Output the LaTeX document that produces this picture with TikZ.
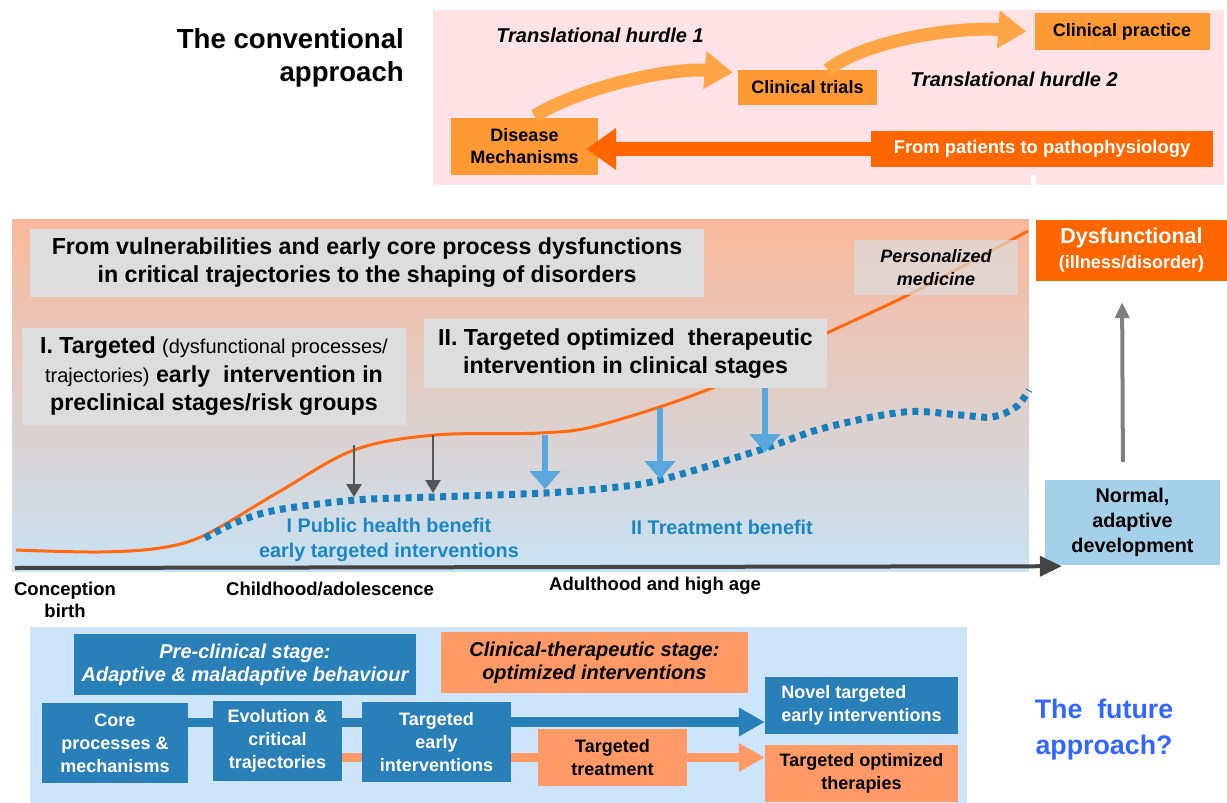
\documentclass[tikz,border=0pt]{standalone}
\usepackage{fontspec}
\setmainfont{Liberation Sans}
\usetikzlibrary{arrows.meta}

\definecolor{pinkbg}{RGB}{255,226,229}
\definecolor{boxorange}{RGB}{255,153,51}
\definecolor{darkorange}{RGB}{255,102,0}
\definecolor{arroworange}{RGB}{255,165,70}
\definecolor{trajorange}{RGB}{255,106,16}
\definecolor{lifetop}{RGB}{250,185,155}
\definecolor{lifemid}{RGB}{228,212,216}
\definecolor{lifebot}{RGB}{200,226,244}
\definecolor{greybox}{RGB}{221,221,221}
\definecolor{dotblue}{RGB}{21,128,187}
\definecolor{arrowblue}{RGB}{90,167,221}
\definecolor{arrowgrey}{RGB}{85,85,85}
\definecolor{upgrey}{RGB}{128,128,128}
\definecolor{axisgrey}{RGB}{68,68,68}
\definecolor{benefitblue}{RGB}{28,134,192}
\definecolor{normalblue}{RGB}{165,208,234}
\definecolor{stageblue}{RGB}{41,128,185}
\definecolor{stageorange}{RGB}{255,153,102}
\definecolor{lightbluebg}{RGB}{204,229,251}
\definecolor{futureblue}{RGB}{51,102,255}

\newcommand{\fsz}[2]{\fontsize{#1}{#2}\selectfont}

\begin{document}
\begin{tikzpicture}[x=1pt, y=-1pt,
    every node/.style={inner sep=0pt, align=center},
    obox/.style={fill=boxorange, font=\bfseries\fsz{18}{22}},
    gbox/.style={fill=greybox, font=\bfseries\fsz{23.2}{28}},
    bbox/.style={fill=stageblue, text=white, font=\bfseries\fsz{18}{23}},
    pbox/.style={fill=stageorange, font=\bfseries\fsz{18}{23}},
    fatarrow/.style={arroworange, line width=13pt, -{Triangle[width=36pt,length=28pt]}},
    graydown/.style={arrowgrey, line width=2.5pt, -{Triangle[width=15pt,length=13pt]}},
    bluedown/.style={arrowblue, line width=6pt, -{Triangle[width=30pt,length=18pt]}},
    axislabel/.style={font=\bfseries\fsz{18.5}{22}}]
    \useasboundingbox (0,0) rectangle (1227,803);

    % The conventional approach
    \node[anchor=east, align=right, font=\bfseries\fsz{27.6}{33}] (title) at (404,58) {The conventional\\approach};
    \fill[pinkbg] (433,10) rectangle (1224,185);
    \fill[white] (1031,175) rectangle (1036,185);

    \node[font=\bfseries\itshape\fsz{20}{23}] (hurdleA) at (600,35) {Translational hurdle 1};
    \node[font=\bfseries\itshape\fsz{20}{23}] (hurdleB) at (1014,79) {Translational hurdle 2};
    \node[obox, minimum width=175pt, minimum height=37pt] (practice) at (1122,31.5) {Clinical practice};
    \node[obox, minimum width=139pt, minimum height=35pt] (trials) at (807.5,87.5) {Clinical trials};
    \node[obox, minimum width=147pt, minimum height=57pt] (mech) at (524.5,146.5) {Disease\\Mechanisms};
    \node[fill=darkorange, text=white, font=\bfseries\fsz{18.4}{22}, minimum width=342pt, minimum height=36pt] (patho) at (1042,149) {From patients to pathophysiology};

    \draw[fatarrow] ([xshift=10pt,yshift=2pt]mech.north) .. controls +(50,-30) and +(-60,-5) .. ([xshift=-5pt,yshift=15pt]trials.west);
    \draw[fatarrow] ([xshift=20pt]trials.north) .. controls +(40,-30) and +(-70,-5) .. ([xshift=-8pt]practice.west);
    \draw[darkorange, line width=14pt, -{Triangle[width=40pt,length=30pt]}, shorten >=-12pt] (patho.west) -- (patho.west -| mech.east);

    % Life course trajectories
    \shade[top color=lifetop, middle color=lifemid, bottom color=lifebot] (12,219) rectangle (1029,571);
    \draw[trajorange, line width=3pt] plot[smooth, tension=0.55] coordinates {(16,550) (99,552) (160,548) (205,535) (277,493) (354,450) (435,435) (540,433) (600,425) (712,388) (827,333) (912,293) (1028,231)};
    \draw[dotblue, line width=7pt, dash pattern=on 6pt off 5.5pt] plot[smooth, tension=0.55] coordinates {(205,538) (237,522) (277,510) (356,500) (435,497) (545,493) (608,488) (660,480) (760,450) (824,428) (904,412) (960,415) (992,417) (1016,407) (1029,390)};

    \node[gbox, minimum width=674pt, minimum height=68pt] (vuln) at (367,263) {From vulnerabilities and early core process dysfunctions\\in critical trajectories to the shaping of disorders};
    \node[fill=greybox, fill opacity=0.7, text opacity=1, font=\bfseries\itshape\fsz{18}{23}, minimum width=164pt, minimum height=55pt] (pers) at (936,267.5) {Personalized\\medicine};
    \node[gbox, font=\bfseries\fsz{23.2}{28.5}, minimum width=384pt, minimum height=97pt] (targetI) at (214,376.5) {I. Targeted {\mdseries\fsz{20}{28.5}(dysfunctional processes/}\\{\mdseries\fsz{20}{28.5}trajectories)} early\ \ intervention in\\preclinical stages/risk groups};
    \node[gbox, minimum width=403pt, minimum height=69pt] (targetII) at (625.5,353.5) {II. Targeted optimized\ \ therapeutic\\intervention in clinical stages};

    \draw[graydown] (354,445) -- (354,497);
    \draw[graydown] (433,435) -- (433,493);
    \draw[bluedown] (545,435) -- (545,489);
    \draw[bluedown] (660,408) -- (660,479);
    \draw[bluedown] ([xshift=139.5pt]targetII.south) -- +(0,64);

    \node[text=benefitblue, font=\bfseries\fsz{19.8}{25}] (benefitI) at (389,540) {I Public health benefit\\early targeted interventions};
    \node[text=benefitblue, font=\bfseries\fsz{19.8}{25}] (benefitII) at (722,527) {II Treatment benefit};

    % Outcome
    \node[fill=darkorange, text=white, font=\bfseries\fsz{21.5}{25}, minimum width=191pt, minimum height=61pt] (dys) at (1131.5,250.5) {Dysfunctional\\{\fsz{18}{25}(illness/disorder)}};
    \node[fill=normalblue, font=\bfseries\fsz{19.8}{25}, minimum width=175pt, minimum height=85pt] (normal) at (1132.5,522.5) {Normal,\\adaptive\\development};
    \draw[upgrey, line width=4pt, -{Triangle[width=14pt,length=16pt]}, shorten <=18pt, shorten >=21pt] ([xshift=-9.5pt]normal.north) -- ([xshift=-9.5pt]dys.south);

    % Age axis
    \draw[axisgrey, line width=4pt, -{Triangle[width=20pt,length=22pt]}] (15,568) -- ([xshift=17pt,yshift=-1pt]normal.south west);
    \node[axislabel] (birth) at (65,600) {Conception\\birth};
    \node[axislabel] (child) at (330,589) {Childhood/adolescence};
    \node[axislabel] (adult) at (655,586) {Adulthood and high age};

    % The future approach
    \fill[lightbluebg] (30,627) rectangle (967,803);
    \node[bbox, font=\bfseries\itshape\fsz{20}{23}, minimum width=342pt, minimum height=61pt] (pre) at (245,664.5) {Pre-clinical stage:\\Adaptive \& maladaptive behaviour};
    \node[pbox, font=\bfseries\itshape\fsz{20}{23}, minimum width=307pt, minimum height=61pt] (clin) at (594.5,662.5) {Clinical-therapeutic stage:\\optimized interventions};
    \node[bbox, minimum width=146pt, minimum height=80pt] (core) at (115,743) {Core\\processes \&\\mechanisms};
    \node[bbox, minimum width=129pt, minimum height=80pt] (evol) at (277.5,741) {Evolution \&\\critical\\trajectories};
    \node[bbox, minimum width=149pt, minimum height=80pt] (tearly) at (436.5,742) {Targeted\\early\\interventions};
    \node[pbox, minimum width=149pt, minimum height=57pt] (ttreat) at (612.5,757.5) {Targeted\\treatment};
    \node[bbox, align=left, minimum width=193pt, minimum height=57pt] (novel) at (861.5,705.5) {Novel targeted\\early interventions};
    \node[pbox, minimum width=193pt, minimum height=57pt] (toptim) at (861.5,773.5) {Targeted optimized\\therapies};

    \draw[stageblue, line width=9pt] ([yshift=20.5pt]core.east) -- ([yshift=18.5pt]evol.west);
    \draw[stageblue, line width=9pt] ([yshift=18.5pt]evol.east) -- ([yshift=19.5pt]tearly.west);
    \draw[stageblue, line width=10pt, -{Triangle[width=27pt,length=26pt]}] ([yshift=20pt]tearly.east) -- ([yshift=-16.5pt]novel.west);
    \draw[stageorange, line width=9pt] ([yshift=-16.5pt]evol.east) -- ([yshift=-15.5pt]tearly.west);
    \draw[stageorange, line width=9pt] ([yshift=-15.5pt]tearly.east) -- (ttreat.west);
    \draw[stageorange, line width=9pt, -{Triangle[width=27pt,length=26pt]}] (ttreat.east) -- ([yshift=16pt]toptim.west);

    \node[text=futureblue, font=\bfseries\fsz{26.8}{36}] (future) at (1104,730) {The\ \ future\\approach?};
\end{tikzpicture}
\end{document}
